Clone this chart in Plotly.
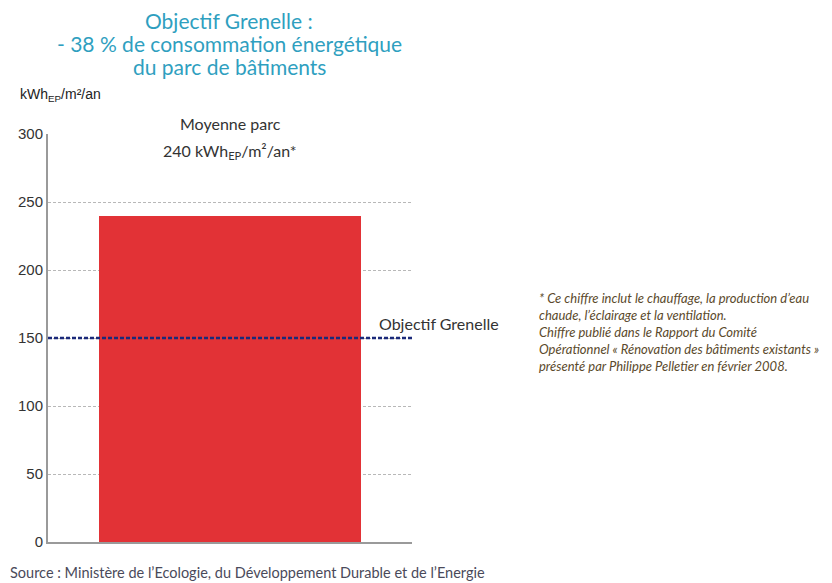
import plotly.graph_objects as go

categories = ["Moyenne parc"]
values = [240]
objectif = 150
tick_vals = [0, 50, 100, 150, 200, 250, 300]

TEAL = "#2f9fbf"
NOTE = "#5b4a2c"

# plot area in pixels
L, R, T, B = 48, 412, 134, 542
def px(x):
    return (x - L) / (R - L)
def py(y):
    return (B - y) / (B - T)

fig = go.Figure()
fig.add_trace(go.Bar(x=categories, y=values, marker=dict(color="#e23236", line=dict(width=0)),
                     width=0.72, showlegend=False, hoverinfo="skip"))

fig.add_shape(type="line", xref="paper", x0=0, x1=1, yref="y", y0=objectif, y1=objectif,
              line=dict(color="#1b2a7a", width=2.5, dash="4px,2px"))

fig.update_layout(
    width=832, height=583,
    margin=dict(l=L, r=832 - R, t=T, b=583 - B, autoexpand=False),
    paper_bgcolor="white", plot_bgcolor="white",
    font=dict(family="Liberation Sans", color="#333333", size=14),
    bargap=0,
)
fig.update_xaxes(range=[-0.5, 0.5], showticklabels=False, showgrid=False, automargin=False,
                 showline=True, linecolor="#9a9a9a", linewidth=2, ticks="", zeroline=False, fixedrange=True)
fig.update_yaxes(range=[0, 300], tickvals=tick_vals, showgrid=True, gridcolor="#b8b8b8", griddash="3px,2px",
                 gridwidth=1, showline=True, linecolor="#9a9a9a", linewidth=2, zeroline=False, automargin=False,
                 tickfont=dict(size=15, color="#333333", family="Liberation Sans"), ticks="", ticklen=0)

ann = []
for txt, yy in [("Objectif Grenelle :", 20), ("- 38 % de consommation énergétique", 44), ("du parc de bâtiments", 67)]:
    ann.append(dict(x=px(229), y=py(yy), xref="paper", yref="paper", xanchor="center", yanchor="middle",
                    text=txt, showarrow=False, font=dict(size=21, color=TEAL, family="Lato")))
ann.append(dict(x=px(18), y=py(95), xref="paper", yref="paper", xanchor="left", yanchor="middle",
                text="kWh<sub>EP</sub>/m²/an", showarrow=False,
                font=dict(size=14, color="#222222", family="Liberation Sans")))
ann.append(dict(x=0, y=py(123), xref="x", yref="paper", xanchor="center", yanchor="middle",
                text="Moyenne parc", showarrow=False,
                font=dict(size=16, color="#333333", family="Lato")))
ann.append(dict(x=0, y=py(151), xref="x", yref="paper", xanchor="center", yanchor="middle",
                text="240 kWh<sub>EP</sub>/m²/an*", showarrow=False,
                font=dict(size=16, color="#333333", family="Lato")))
ann.append(dict(x=1, y=objectif, xref="paper", yref="y", xanchor="left", yanchor="bottom",
                xshift=-35, yshift=3,
                text="Objectif Grenelle", showarrow=False,
                font=dict(size=16, color="#333333", family="Lato")))
ann.append(dict(x=px(537), y=py(332), xref="paper", yref="paper", xanchor="left", yanchor="middle",
                align="left", showarrow=False,
                text="<i>* Ce chiffre inclut le chauffage, la production d’eau<br>"
                     "chaude, l’éclairage et la ventilation.<br>"
                     "Chiffre publié dans le Rapport du Comité<br>"
                     "Opérationnel « Rénovation des bâtiments existants »<br>"
                     "présenté par Philippe Pelletier en février 2008.</i>",
                font=dict(size=13, color=NOTE, family="Lato")))
ann.append(dict(x=px(8), y=py(572), xref="paper", yref="paper", xanchor="left", yanchor="middle",
                text="Source : Ministère de l’Ecologie, du Développement Durable et de l’Energie",
                showarrow=False, font=dict(size=14.5, color="#4a4a5a", family="Lato")))
fig.update_layout(annotations=ann)

fig.write_html("out.html", config={"displayModeBar": False},
               post_script="document.body.style.margin='0';document.body.style.overflow='hidden';")
